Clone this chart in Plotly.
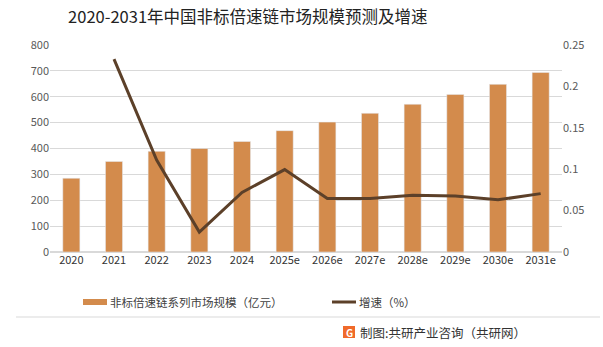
import plotly.graph_objects as go

years = ["2020", "2021", "2022", "2023", "2024", "2025e", "2026e", "2027e",
         "2028e", "2029e", "2030e", "2031e"]
market_size = [285, 350, 389, 400, 427, 469, 502, 536, 571, 609, 648, 694]
growth = [None, 0.233, 0.111, 0.024, 0.072, 0.0995, 0.0645, 0.0645, 0.0685,
          0.0675, 0.063, 0.0705]

bar_color = "#D38B4C"
line_color = "#5C4029"
font_family = "Noto Sans CJK SC, Microsoft YaHei, sans-serif"

fig = go.Figure()
fig.add_trace(go.Bar(x=years, y=market_size, name="非标倍速链系列市场规模（亿元）",
                     marker_color=bar_color, width=0.4, yaxis="y", showlegend=False))
fig.add_trace(go.Scatter(x=years, y=growth, name="增速（%）", mode="lines",
                         line=dict(color=line_color, width=3), yaxis="y2",
                         showlegend=False, connectgaps=False))

fig.update_layout(
    width=603, height=347,
    margin=dict(l=50, r=41, t=45, b=95),
    paper_bgcolor="white", plot_bgcolor="white",
    font=dict(family=font_family, size=11, color="#595959"),
    title=dict(text="2020-2031年中国非标倍速链市场规模预测及增速",
               xref="container", x=0.411, xanchor="center", y=0.95, yanchor="middle",
               font=dict(size=16.5, color="#222222", family=font_family)),
    xaxis=dict(type="category", showgrid=False, showline=False, ticks="",
               tickfont=dict(size=11, color="#333333")),
    yaxis=dict(range=[0, 800], dtick=100, showgrid=True, gridcolor="#D9D9D9",
               gridwidth=1, zeroline=True, zerolinecolor="#D9D9D9", ticks="",
               showline=False),
    yaxis2=dict(range=[0, 0.25], dtick=0.05, overlaying="y", side="right",
                showgrid=False, zeroline=False, ticks="", showline=False,
                tickformat="~g"),
    bargap=0.6,
)

# custom legend
fig.add_shape(type="rect", xref="paper", yref="paper",
              x0=(83 - 50) / 512, x1=(107 - 50) / 512,
              y0=(347 - 95 - 305) / 207, y1=(347 - 95 - 299) / 207,
              fillcolor=bar_color, line=dict(width=0))
fig.add_annotation(xref="paper", yref="paper", x=(108 - 50) / 512,
                   y=(347 - 95 - 302) / 207, xanchor="left", yanchor="middle",
                   text="非标倍速链系列市场规模（亿元）", showarrow=False,
                   font=dict(size=11.5, color="#404040"))
fig.add_shape(type="line", xref="paper", yref="paper",
              x0=(332 - 50) / 512, x1=(356 - 50) / 512,
              y0=(347 - 95 - 302) / 207, y1=(347 - 95 - 302) / 207,
              line=dict(color=line_color, width=3))
fig.add_annotation(xref="paper", yref="paper", x=(357 - 50) / 512,
                   y=(347 - 95 - 302) / 207, xanchor="left", yanchor="middle",
                   text="增速（%）", showarrow=False,
                   font=dict(size=11.5, color="#404040"))

# separator line
fig.add_shape(type="line", xref="paper", yref="paper",
              x0=(16 - 50) / 512, x1=(600 - 50) / 512,
              y0=(347 - 95 - 317) / 207, y1=(347 - 95 - 317) / 207,
              line=dict(color="#D9D9D9", width=1))

# footer logo and source
fig.add_shape(type="rect", xref="paper", yref="paper",
              x0=(343 - 50) / 512, x1=(355 - 50) / 512,
              y0=(347 - 95 - 338) / 207, y1=(347 - 95 - 326) / 207,
              fillcolor="#F06A2A", line=dict(width=0))
fig.add_annotation(xref="paper", yref="paper", x=(349 - 50) / 512,
                   y=(347 - 95 - 332) / 207, xanchor="center", yanchor="middle",
                   text="<b>G</b>", showarrow=False,
                   font=dict(size=10, color="white"))
fig.add_annotation(xref="paper", yref="paper", x=(358 - 50) / 512,
                   y=(347 - 95 - 332) / 207, xanchor="left", yanchor="middle",
                   text="制图:共研产业咨询（共研网）", showarrow=False,
                   font=dict(size=12.5, color="#333333"))

fig.write_html("out.html")
